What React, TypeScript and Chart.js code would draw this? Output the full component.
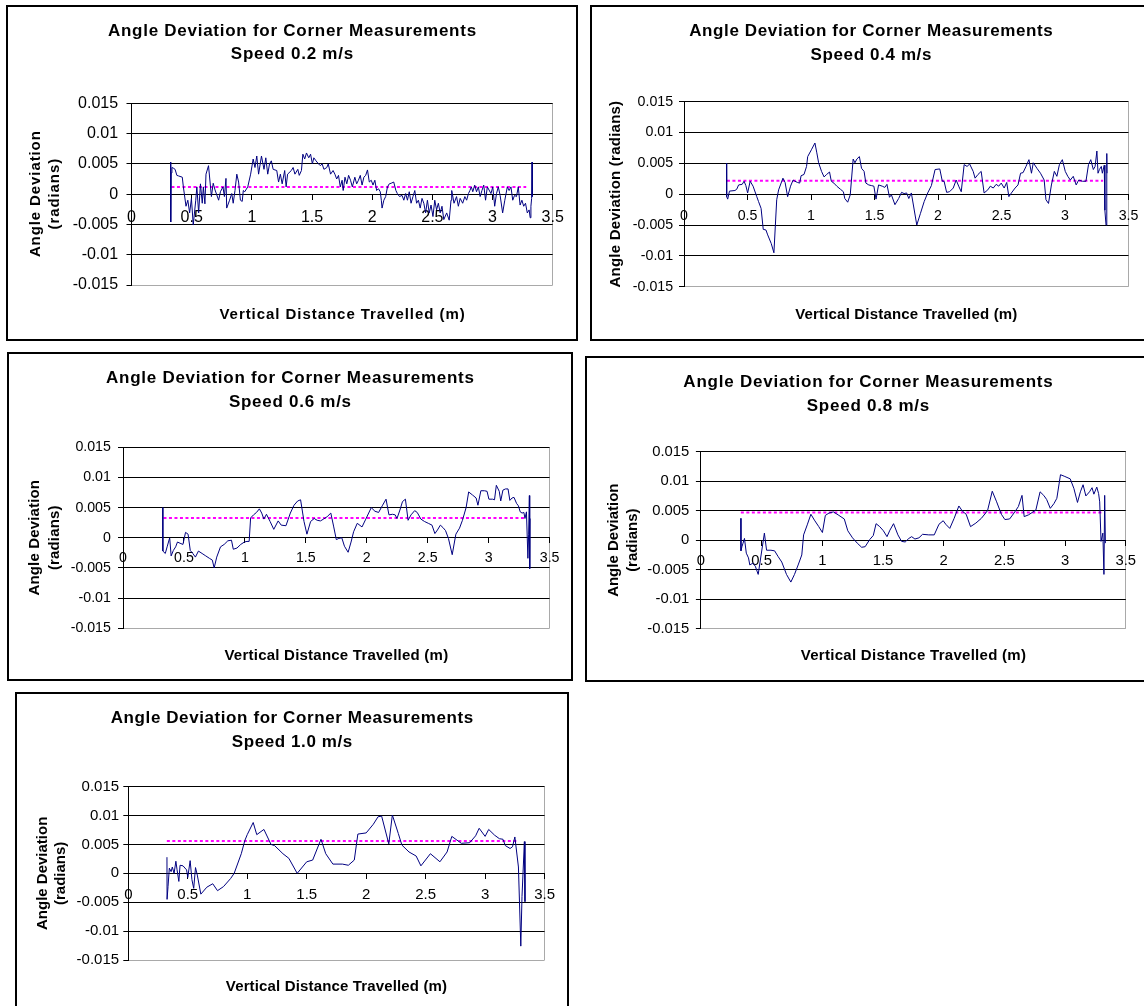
import React, { useEffect, useRef } from 'react';
import { Chart, registerables } from 'chart.js';

Chart.register(...registerables);

const FONT = "'Liberation Sans', Arial, Helvetica, sans-serif";

// Axis ticks
const xTickValues = [0, 0.5, 1, 1.5, 2, 2.5, 3, 3.5];
const xTickLabels = ['0', '0.5', '1', '1.5', '2', '2.5', '3', '3.5'];
const yTickValues = [-0.015, -0.01, -0.005, 0, 0.005, 0.01, 0.015];
const yTickLabels = ['-0.015', '-0.01', '-0.005', '0', '0.005', '0.01', '0.015'];

const titleLine = 'Angle Deviation for Corner Measurements';
const xAxisTitle = 'Vertical Distance Travelled (m)';
const speeds = ['0.2', '0.4', '0.6', '0.8', '1.0'];

// Mean deviation of each run and the distance span it covers
const meanDeviation = [0.0012, 0.0022, 0.0033, 0.0047, 0.0056];
const meanFrom = [0.332, 0.338, 0.332, 0.329, 0.324];
const meanTo = [3.28, 3.3, 3.3, 3.3, 3.28];

// [distance (m), angle deviation (rad)] for each speed
const run02: [number, number][] = [
  [0.325, 0.0053], [0.326, -0.0046], [0.33, 0.0035], [0.336, 0.0044], [0.347, 0.0043], [0.362, 0.0041],
  [0.377, 0.0031], [0.392, 0.003], [0.422, 0.0028], [0.431, 0.0012], [0.453, -0.002], [0.468, -0.001],
  [0.483, -0.0031], [0.498, -0.0007], [0.513, -0.0051], [0.534, -0.001], [0.543, 0.0012], [0.558, -0.0031],
  [0.573, 0.0017], [0.588, -0.0015], [0.597, 0.0012], [0.61, -0.0016], [0.619, 0.0033], [0.64, 0.0047],
  [0.664, -0.0004], [0.679, 0.0018], [0.694, 0.0007], [0.724, -0.001], [0.739, 0.0004], [0.76, 0.0012],
  [0.772, -0.0004], [0.785, 0.0026], [0.791, -0.0023], [0.815, -0.001], [0.833, 0.0001], [0.845, -0.0015],
  [0.86, 0.0006], [0.875, 0.0033], [0.89, 0.002], [0.905, -0.001], [0.92, -0.0012], [0.929, 0.0006],
  [0.941, 0.0004], [0.966, 0.0012], [0.99, 0.0033], [1.011, 0.0058], [1.026, 0.0044], [1.041, 0.0063],
  [1.056, 0.0033], [1.08, 0.0063], [1.101, 0.0041], [1.116, 0.006], [1.132, 0.0033], [1.147, 0.005],
  [1.162, 0.0055], [1.177, 0.0041], [1.207, 0.0039], [1.222, 0.002], [1.237, 0.0033], [1.252, 0.0017],
  [1.273, 0.0039], [1.285, 0.0012], [1.297, 0.0033], [1.328, 0.0039], [1.343, 0.0044], [1.358, 0.0033],
  [1.382, 0.0041], [1.394, 0.0031], [1.412, 0.0039], [1.424, 0.0066], [1.439, 0.0058], [1.454, 0.0068],
  [1.473, 0.006], [1.488, 0.0066], [1.503, 0.005], [1.515, 0.006], [1.533, 0.0055], [1.554, 0.005],
  [1.569, 0.0047], [1.584, 0.005], [1.599, 0.0041], [1.623, 0.0044], [1.635, 0.005], [1.654, 0.0033],
  [1.675, 0.0039], [1.69, 0.0033], [1.705, 0.0025], [1.72, 0.0031], [1.735, 0.0012], [1.75, 0.0023],
  [1.759, 0.0006], [1.774, 0.0028], [1.789, 0.0017], [1.804, 0.0031], [1.82, 0.0023], [1.835, 0.0012],
  [1.856, 0.0028], [1.871, 0.0017], [1.886, 0.0023], [1.901, 0.0031], [1.916, 0.0015], [1.931, 0.0028],
  [1.946, 0.0031], [1.961, 0.004], [1.976, 0.002], [1.992, 0.0023], [2.007, 0.0015], [2.022, 0.0023],
  [2.037, 0.0006], [2.052, 0.0009], [2.067, 0.0004], [2.076, -0.001], [2.082, -0.0023], [2.097, -0.001],
  [2.112, -0.0004], [2.127, 0.0012], [2.142, 0.0017], [2.158, 0.0018], [2.179, 0.002], [2.197, 0.0006],
  [2.209, 0.0001], [2.227, -0.0004], [2.248, -0.0002], [2.263, -0.001], [2.278, 0.0001], [2.293, -0.001],
  [2.308, 0.0004], [2.323, -0.0015], [2.339, -0.0004], [2.354, 0.0006], [2.369, -0.0015], [2.384, -0.001],
  [2.399, -0.0023], [2.414, -0.0007], [2.429, -0.0015], [2.444, -0.0031], [2.459, -0.001], [2.474, -0.0031],
  [2.489, -0.0018], [2.505, -0.0037], [2.52, -0.001], [2.535, -0.0026], [2.55, -0.0015], [2.565, -0.0031],
  [2.58, -0.002], [2.595, -0.0042], [2.619, -0.0031], [2.64, -0.0043], [2.655, -0.001], [2.661, 0.0006],
  [2.68, -0.0015], [2.701, -0.0004], [2.716, -0.002], [2.731, -0.0007], [2.752, -0.0015], [2.77, -0.0004],
  [2.785, -0.001], [2.8, 0.0001], [2.812, 0.0006], [2.824, 0.0012], [2.836, 0.0004], [2.852, 0.0015],
  [2.867, 0.0004], [2.882, 0.0012], [2.897, -0.0004], [2.912, 0.0006], [2.927, 0.0015], [2.942, -0.001],
  [2.957, 0.0012], [2.987, 0.0001], [3.002, 0.0012], [3.018, -0.002], [3.033, 0.0001], [3.048, 0.0012],
  [3.063, -0.0002], [3.084, -0.0031], [3.102, -0.001], [3.123, 0.0012], [3.138, 0.0006], [3.153, 0.0012],
  [3.168, -0.001], [3.183, -0.0002], [3.199, -0.0004], [3.214, 0.0012], [3.229, -0.0018], [3.244, -0.001],
  [3.259, -0.002], [3.274, -0.0015], [3.289, -0.0031], [3.304, -0.0026], [3.313, -0.0039], [3.319, -0.002],
  [3.325, -0.0007], [3.328, 0.0053], [3.331, -0.0004],
];

const run04: [number, number][] = [
  [0.335, 0.005], [0.336, -0.0004], [0.344, -0.0008], [0.358, 0.0005], [0.401, 0.0006], [0.415, 0.0008],
  [0.43, 0.0015], [0.458, 0.0016], [0.473, 0.0021], [0.487, 0.0014], [0.501, 0.0002], [0.521, 0.0021],
  [0.544, 0.0013], [0.573, -0.0004], [0.587, -0.0012], [0.607, -0.0023], [0.624, -0.0057], [0.645, -0.0058],
  [0.659, -0.0066], [0.687, -0.008], [0.708, -0.0095], [0.73, -0.0009], [0.745, 0.0007], [0.779, 0.0026],
  [0.796, 0.0019], [0.816, -0.0004], [0.839, 0.0013], [0.859, 0.0023], [0.874, 0.0021], [0.894, 0.0019],
  [0.911, 0.0018], [0.922, 0.003], [0.945, 0.0032], [0.965, 0.0045], [0.974, 0.0061], [1.003, 0.0072],
  [1.031, 0.0083], [1.046, 0.0067], [1.06, 0.0051], [1.083, 0.0037], [1.103, 0.0028], [1.123, 0.0032],
  [1.146, 0.0036], [1.16, 0.0021], [1.18, 0.0018], [1.203, 0.0013], [1.232, 0.0008], [1.255, 0.0004],
  [1.266, -0.0007], [1.289, -0.0013], [1.309, -0.0001], [1.332, 0.0057], [1.346, 0.0051], [1.361, 0.0057],
  [1.381, 0.0061], [1.398, 0.0042], [1.418, 0.0037], [1.432, 0.0018], [1.455, 0.0015], [1.475, 0.0014],
  [1.495, 0.0013], [1.512, -0.0008], [1.532, 0.0015], [1.561, 0.0013], [1.581, 0.0011], [1.598, 0.0016],
  [1.618, -0.0005], [1.633, -0.0001], [1.661, -0.0017], [1.69, -0.0007], [1.713, 0.0003], [1.733, 0.0001],
  [1.753, 0.0002], [1.77, -0.0007], [1.79, 0.0002], [1.833, -0.005], [1.862, -0.0031], [1.891, -0.0012],
  [1.919, 0.0002], [1.948, 0.0014], [1.977, 0.004], [2.014, 0.0041], [2.034, 0.0021], [2.048, 0.0021],
  [2.068, 0.0003], [2.091, 0.0004], [2.12, 0.001], [2.143, 0.0023], [2.163, 0.0013], [2.183, 0.0004],
  [2.206, 0.0048], [2.229, 0.0045], [2.249, 0.0049], [2.277, 0.0037], [2.292, 0.0026], [2.315, 0.0032],
  [2.34, 0.0037], [2.363, 0.0002], [2.392, 0.0007], [2.412, 0.0013], [2.435, 0.001], [2.458, 0.0016],
  [2.478, 0.0013], [2.498, 0.0018], [2.521, 0.001], [2.541, 0.0019], [2.558, -0.0004], [2.578, 0.0002],
  [2.607, 0.001], [2.63, 0.0015], [2.65, 0.0034], [2.67, 0.0035], [2.693, 0.0045], [2.716, 0.0056],
  [2.736, 0.0034], [2.75, 0.0051], [2.779, 0.0042], [2.807, 0.0034], [2.836, 0.0023], [2.85, -0.0009],
  [2.87, -0.0015], [2.893, 0.0015], [2.916, 0.0037], [2.936, 0.0029], [2.956, 0.0048], [2.979, 0.0056],
  [3.002, 0.0037], [3.022, 0.0029], [3.042, 0.0023], [3.065, 0.0029], [3.088, 0.0015], [3.108, 0.0023],
  [3.137, 0.0021], [3.165, 0.0021], [3.185, 0.0048], [3.203, 0.0056], [3.223, 0.004], [3.237, 0.0045],
  [3.251, 0.007], [3.26, 0.0034], [3.271, 0.004], [3.286, 0.0045], [3.294, 0.0034], [3.309, 0.0047],
  [3.314, -0.0026], [3.323, -0.005], [3.329, 0.0066], [3.331, 0.0034],
];

const run06: [number, number][] = [
  [0.326, 0.005], [0.327, -0.0022], [0.347, -0.0026], [0.362, -0.0015], [0.383, 0.0], [0.395, -0.003],
  [0.413, -0.0021], [0.432, -0.0015], [0.447, -0.0007], [0.468, -0.0009], [0.492, -0.0011], [0.513, 0.0009],
  [0.534, 0.0006], [0.552, -0.0021], [0.573, -0.0026], [0.594, -0.0032], [0.619, -0.0022], [0.649, -0.0026],
  [0.679, -0.003], [0.709, -0.0034], [0.733, -0.0037], [0.748, -0.005], [0.769, -0.0032], [0.8, -0.0015],
  [0.83, -0.0011], [0.86, -0.0005], [0.89, -0.0004], [0.905, -0.0019], [0.935, -0.0017], [0.966, -0.0011],
  [0.996, -0.0007], [1.017, -0.0006], [1.035, -0.0006], [1.047, 0.0033], [1.071, 0.0038], [1.095, 0.0042],
  [1.119, 0.0048], [1.138, 0.0041], [1.156, 0.0031], [1.177, 0.0039], [1.207, 0.0027], [1.237, 0.0014],
  [1.273, 0.0028], [1.298, 0.0021], [1.337, 0.002], [1.373, 0.0041], [1.403, 0.0054], [1.433, 0.0061],
  [1.457, 0.0063], [1.485, 0.0027], [1.509, 0.0006], [1.539, 0.0027], [1.569, 0.0032], [1.593, 0.0029],
  [1.62, 0.0028], [1.645, 0.0031], [1.675, 0.0035], [1.705, 0.0041], [1.729, 0.0018], [1.75, -0.0003],
  [1.771, -0.0001], [1.795, 0.0], [1.817, -0.0014], [1.847, -0.0024], [1.871, -0.0007], [1.892, 0.001],
  [1.922, 0.0024], [1.961, 0.0018], [1.992, 0.0031], [2.037, 0.005], [2.067, 0.0044], [2.097, 0.0042],
  [2.127, 0.0053], [2.158, 0.0064], [2.182, 0.0038], [2.212, 0.0039], [2.233, 0.0038], [2.248, 0.0032],
  [2.272, 0.0046], [2.293, 0.006], [2.317, 0.0064], [2.339, 0.0029], [2.363, 0.0038], [2.393, 0.0045],
  [2.414, 0.0042], [2.444, 0.0031], [2.474, 0.0027], [2.505, 0.0024], [2.535, 0.0021], [2.559, 0.0007],
  [2.58, 0.0013], [2.604, 0.0021], [2.625, 0.0017], [2.646, 0.0012], [2.67, -0.0001], [2.701, -0.0028],
  [2.731, 0.0006], [2.761, 0.0016], [2.785, 0.0029], [2.815, 0.005], [2.836, 0.0076], [2.867, 0.0071],
  [2.897, 0.0066], [2.912, 0.0054], [2.936, 0.0078], [2.966, 0.0078], [2.987, 0.0077], [3.002, 0.0064],
  [3.033, 0.0064], [3.048, 0.0063], [3.063, 0.0087], [3.087, 0.0077], [3.099, 0.0061], [3.117, 0.0079],
  [3.138, 0.0081], [3.159, 0.0081], [3.174, 0.0062], [3.192, 0.0066], [3.208, 0.0067], [3.229, 0.0057],
  [3.244, 0.0053], [3.259, 0.0043], [3.274, 0.0041], [3.289, 0.0042], [3.298, 0.0032], [3.31, 0.0043],
  [3.322, -0.0034], [3.328, 0.0006], [3.334, 0.007], [3.337, -0.0051], [3.34, 0.0032],
];

const run08: [number, number][] = [
  [0.329, 0.0037], [0.33, -0.0018], [0.338, -0.0011], [0.347, -0.0005], [0.359, 0.0003], [0.374, -0.0022],
  [0.392, -0.003], [0.403, -0.0042], [0.427, -0.0039], [0.448, -0.0044], [0.472, -0.0058], [0.523, 0.0012],
  [0.541, -0.0017], [0.577, -0.0017], [0.607, -0.0018], [0.637, -0.0028], [0.666, -0.0037], [0.705, -0.0058],
  [0.741, -0.0071], [0.771, -0.0058], [0.801, -0.0042], [0.831, -0.0025], [0.846, 0.0009], [0.876, 0.0026],
  [0.906, 0.0044], [0.935, 0.0034], [0.971, 0.0023], [1.001, 0.0013], [1.025, 0.0042], [1.055, 0.0046],
  [1.091, 0.0048], [1.13, 0.0043], [1.181, 0.0036], [1.21, 0.0016], [1.249, 0.0004], [1.288, -0.0005],
  [1.324, -0.0012], [1.353, -0.0011], [1.39, 0.0001], [1.42, 0.0008], [1.443, 0.0028], [1.473, 0.0023],
  [1.503, 0.0016], [1.533, 0.0006], [1.557, 0.0017], [1.587, 0.0028], [1.623, 0.0009], [1.653, -0.0002],
  [1.683, -0.0003], [1.713, 0.0003], [1.736, 0.0006], [1.763, 0.0002], [1.796, 0.0004], [1.826, 0.001],
  [1.877, 0.0009], [1.922, 0.0009], [1.961, 0.0027], [1.996, 0.0033], [2.017, 0.0027], [2.05, 0.002],
  [2.086, 0.0037], [2.125, 0.0058], [2.155, 0.0049], [2.185, 0.0044], [2.221, 0.0023], [2.265, 0.0029],
  [2.31, 0.0037], [2.361, 0.005], [2.4, 0.0083], [2.436, 0.0065], [2.475, 0.0044], [2.504, 0.0035],
  [2.543, 0.0036], [2.579, 0.0046], [2.615, 0.0057], [2.645, 0.0076], [2.663, 0.004], [2.699, 0.0043],
  [2.729, 0.0047], [2.759, 0.0051], [2.794, 0.0082], [2.824, 0.0076], [2.848, 0.0069], [2.878, 0.0054],
  [2.908, 0.0062], [2.932, 0.0071], [2.962, 0.0111], [2.998, 0.0108], [3.042, 0.0104], [3.072, 0.0088],
  [3.102, 0.0064], [3.126, 0.0082], [3.148, 0.0094], [3.171, 0.0075], [3.201, 0.0082], [3.222, 0.0089],
  [3.237, 0.0078], [3.261, 0.009], [3.276, 0.0079], [3.285, 0.0065], [3.296, -0.0002], [3.311, 0.0012],
  [3.32, -0.0058], [3.326, 0.0076], [3.332, -0.0005],
];

const run10: [number, number][] = [
  [0.325, 0.0028], [0.326, -0.0045], [0.334, -0.0023], [0.345, 0.0009], [0.36, 0.0003], [0.37, 0.0011],
  [0.385, 0.0], [0.4, 0.0021], [0.41, 0.0006], [0.425, -0.0014], [0.435, 0.0014], [0.46, 0.0013],
  [0.49, 0.0006], [0.5, -0.0007], [0.52, 0.0022], [0.535, -0.0011], [0.55, -0.0026], [0.565, 0.001],
  [0.58, -0.0003], [0.61, -0.0036], [0.66, -0.0024], [0.71, -0.0018], [0.75, -0.003], [0.8, -0.0023],
  [0.86, -0.0009], [0.89, 0.0], [0.95, 0.0034], [0.98, 0.0057], [1.0, 0.0067], [1.05, 0.0088],
  [1.08, 0.0067], [1.14, 0.0076], [1.2, 0.005], [1.23, 0.0048], [1.3, 0.0034], [1.35, 0.0026],
  [1.42, 0.0], [1.5, 0.002], [1.55, 0.0023], [1.62, 0.0059], [1.66, 0.0034], [1.72, 0.0016],
  [1.8, 0.0016], [1.85, 0.0014], [1.9, 0.0023], [1.93, 0.0068], [2.0, 0.007], [2.06, 0.0085],
  [2.1, 0.0098], [2.13, 0.0099], [2.19, 0.0051], [2.22, 0.0101], [2.27, 0.0069], [2.3, 0.0049],
  [2.36, 0.0037], [2.42, 0.003], [2.46, 0.0013], [2.54, 0.0034], [2.62, 0.002], [2.68, 0.0037],
  [2.72, 0.0064], [2.8, 0.0052], [2.87, 0.0053], [2.92, 0.0065], [2.95, 0.0078], [3.0, 0.0064],
  [3.03, 0.0076], [3.08, 0.0066], [3.12, 0.006], [3.15, 0.0059], [3.17, 0.0048], [3.21, 0.0043],
  [3.23, 0.0046], [3.25, 0.0063], [3.28, 0.0011], [3.3, -0.0126], [3.31, -0.004], [3.33, 0.0055],
  [3.335, -0.0049],
];

const runs = [run02, run04, run06, run08, run10];

// Frame and text placement of each panel (page pixels for the frame, canvas pixels inside)
type PanelLayout = {
  left: number; top: number; width: number; height: number;
  area: { left: number; top: number; right: number; bottom: number };
  tickSize: number; xPad: number; yPad: number;
  titleSize: number; titleSpacing: number; titleY: [number, number];
  axisSize: number; xTitleY: number; xSpacing: number;
  yLines: string[]; yBaselines: number[]; ySpacing: number;
};

const BORDER = 2;

const panels: PanelLayout[] = [
  {
    left: 6, top: 5, width: 572, height: 336,
    area: { left: 123.5, top: 96.3, right: 544.7, bottom: 278 },
    tickSize: 16, xPad: 8.7, yPad: 8.4,
    titleSize: 17, titleSpacing: 0.74, titleY: [22.5, 46.3],
    axisSize: 15, xTitleY: 306.3, xSpacing: 0.95,
    yLines: ['Angle Deviation', '(radians)'], yBaselines: [31.5, 51], ySpacing: 0.9,
  },
  {
    left: 590, top: 5, width: 562, height: 336,
    area: { left: 92, top: 94.7, right: 536.5, bottom: 279.7 },
    tickSize: 14.2, xPad: 8.2, yPad: 5.9,
    titleSize: 17, titleSpacing: 0.62, titleY: [23, 47.3],
    axisSize: 15, xTitleY: 306.3, xSpacing: 0.18,
    yLines: ['Angle Deviation (radians)'], yBaselines: [28.4], ySpacing: 0.24,
  },
  {
    left: 7, top: 352, width: 566, height: 329,
    area: { left: 114, top: 93.3, right: 540.6, bottom: 274.3 },
    tickSize: 14.2, xPad: 7.2, yPad: 7.1,
    titleSize: 17, titleSpacing: 0.73, titleY: [23.3, 47],
    axisSize: 15, xTitleY: 300.3, xSpacing: 0.23,
    yLines: ['Angle Deviation', '(radians)'], yBaselines: [30.2, 49.5], ySpacing: 0.15,
  },
  {
    left: 585, top: 356, width: 566, height: 326,
    area: { left: 113.9, top: 93.7, right: 538.8, bottom: 270.7 },
    tickSize: 14.8, xPad: 6.8, yPad: 6.6,
    titleSize: 17, titleSpacing: 0.77, titleY: [23, 47],
    axisSize: 15, xTitleY: 296.3, xSpacing: 0.28,
    yLines: ['Angle Deviation', '(radians)'], yBaselines: [30.8, 50.4], ySpacing: 0,
  },
  {
    left: 15, top: 692, width: 554, height: 330,
    area: { left: 111.3, top: 92.7, right: 527.6, bottom: 266 },
    tickSize: 15, xPad: 7.7, yPad: 4.2,
    titleSize: 17, titleSpacing: 0.59, titleY: [22.7, 47],
    axisSize: 15, xTitleY: 292, xSpacing: 0.15,
    yLines: ['Angle Deviation', '(radians)'], yBaselines: [29.9, 47.9], ySpacing: 0,
  },
];

// Draws the two-line heading and both axis titles with a little letter spacing
function makeTextPlugin(p: PanelLayout, heading: string[]) {
  return {
    id: 'panelText',
    afterDraw(chart: any) {
      const ctx = chart.ctx as CanvasRenderingContext2D & { letterSpacing?: string };
      const area = chart.chartArea;
      ctx.save();
      ctx.fillStyle = '#000';
      ctx.textAlign = 'center';
      ctx.textBaseline = 'alphabetic';

      ctx.font = `bold ${p.titleSize}px ${FONT}`;
      ctx.letterSpacing = `${p.titleSpacing}px`;
      const cx = chart.width / 2 + p.titleSpacing / 2;
      heading.forEach((line, i) => {
        ctx.fillText(line, cx, p.titleY[i] + 0.358 * p.titleSize);
      });

      ctx.font = `bold ${p.axisSize}px ${FONT}`;
      ctx.letterSpacing = `${p.xSpacing}px`;
      const ax = (area.left + area.right) / 2 + p.xSpacing / 2;
      ctx.fillText(xAxisTitle, ax, p.xTitleY + 0.358 * p.axisSize);

      ctx.letterSpacing = `${p.ySpacing}px`;
      const ay = (area.top + area.bottom) / 2;
      p.yLines.forEach((line, i) => {
        ctx.save();
        ctx.translate(p.yBaselines[i], ay - p.ySpacing / 2);
        ctx.rotate(-Math.PI / 2);
        ctx.fillText(line, 0, 0);
        ctx.restore();
      });
      ctx.restore();
    },
  };
}

function DeviationPanel({ index }: { index: number }) {
  const ref = useRef<HTMLCanvasElement | null>(null);
  const p = panels[index];
  const cw = p.width - 2 * BORDER;
  const ch = p.height - 2 * BORDER;

  useEffect(() => {
    if (!ref.current) return;
    const heading = [titleLine, `Speed ${speeds[index]} m/s`];
    const tickFont = { family: FONT, size: p.tickSize };
    const chart = new Chart(ref.current, {
      type: 'line',
      data: {
        datasets: [
          {
            data: runs[index] as any,
            borderColor: '#000080',
            borderWidth: 1,
            pointRadius: 0,
            tension: 0,
            fill: false,
          },
          {
            data: [
              [meanFrom[index], meanDeviation[index]],
              [meanTo[index], meanDeviation[index]],
            ] as any,
            borderColor: '#ff00ff',
            borderWidth: 2,
            borderDash: [3, 2.5],
            pointRadius: 0,
            fill: false,
          },
        ],
      },
      options: {
        responsive: false,
        animation: false,
        devicePixelRatio: 1,
        layout: {
          padding: {
            left: 0,
            top: p.area.top,
            right: cw - p.area.right,
            bottom: ch - p.area.bottom,
          },
        },
        plugins: {
          legend: { display: false },
          tooltip: { enabled: false },
          title: { display: false },
        },
        scales: {
          x: {
            type: 'linear',
            position: { y: 0 } as any,
            min: 0,
            max: 3.5,
            afterBuildTicks: (s: any) => {
              s.ticks = xTickValues.map((v) => ({ value: v }));
            },
            ticks: {
              autoSkip: false,
              maxRotation: 0,
              color: '#000',
              font: tickFont,
              padding: p.xPad,
              callback: (_v: any, i: number) => xTickLabels[i],
            },
            grid: {
              drawOnChartArea: true,
              color: (c: any) => (c.tick && c.tick.value === 3.5 ? '#a9a9a9' : 'rgba(0,0,0,0)'),
              tickColor: '#000',
              tickLength: 5,
              lineWidth: 1,
            },
            border: { display: true, color: '#000', width: 1 },
          },
          y: {
            type: 'linear',
            position: 'left',
            min: -0.015,
            max: 0.015,
            afterBuildTicks: (s: any) => {
              s.ticks = yTickValues.map((v) => ({ value: v }));
            },
            afterFit: (s: any) => {
              s.width = p.area.left;
            },
            ticks: {
              autoSkip: false,
              color: '#000',
              font: tickFont,
              padding: p.yPad,
              callback: (_v: any, i: number) => yTickLabels[i],
            },
            grid: {
              color: (c: any) => (c.tick && c.tick.value === -0.015 ? '#a9a9a9' : '#000'),
              tickColor: '#000',
              tickLength: 5,
              lineWidth: 1,
            },
            border: { display: true, color: '#000', width: 1 },
          },
        },
      },
      plugins: [makeTextPlugin(p, heading)],
    });
    return () => chart.destroy();
  }, [index]);

  return (
    <div
      style={{
        position: 'absolute',
        left: p.left,
        top: p.top,
        width: p.width,
        height: p.height,
        border: `${BORDER}px solid #000`,
        boxSizing: 'border-box',
        background: '#fff',
      }}
    >
      <canvas ref={ref} width={cw} height={ch} style={{ display: 'block', width: cw, height: ch }} />
    </div>
  );
}

export default function App() {
  return (
    <div
      style={{
        position: 'absolute',
        left: 0,
        top: 0,
        width: 1144,
        height: 1006,
        overflow: 'hidden',
        background: '#fff',
      }}
    >
      {panels.map((_, i) => (
        <DeviationPanel key={i} index={i} />
      ))}
    </div>
  );
}
